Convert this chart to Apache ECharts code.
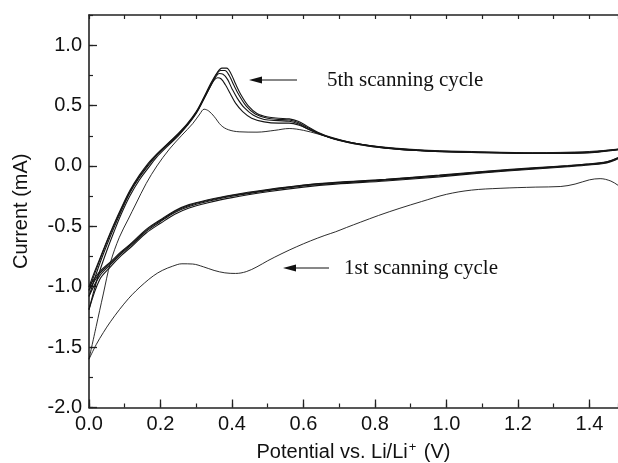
<!DOCTYPE html>
<html>
<head>
<meta charset="utf-8">
<script src="https://cdn.jsdelivr.net/npm/echarts@6/dist/echarts.min.js"></script>
<style>
    html, body {margin: 0; padding: 0; background: #fff;}
    #chart {width: 618px; height: 463px;}
</style>
</head>
<body>
<div id="chart"></div>
<script>
// cyclic voltammetry, potential (V) / current (mA) pairs
var cycle1Cathodic = [[1.50,-0.20],[1.48,-0.16],[1.46,-0.125],[1.43,-0.105],[1.40,-0.115],[1.36,-0.15],[1.32,-0.17],[1.25,-0.175],[1.15,-0.185],[1.07,-0.20],[1.00,-0.235],[0.93,-0.295],[0.87,-0.35],[0.81,-0.41],[0.76,-0.465],[0.72,-0.51],[0.69,-0.545],[0.66,-0.575],[0.62,-0.62],[0.58,-0.67],[0.54,-0.725],[0.50,-0.785],[0.47,-0.835],[0.44,-0.875],[0.41,-0.89],[0.38,-0.885],[0.35,-0.865],[0.32,-0.835],[0.29,-0.812],[0.26,-0.81],[0.234,-0.83],[0.205,-0.865],[0.18,-0.91],[0.155,-0.97],[0.131,-1.035],[0.11,-1.10],[0.085,-1.19],[0.06,-1.29],[0.04,-1.38],[0.02,-1.48],[0.0,-1.60]];
var cycle1Anodic = [[0.0,-1.60],[0.02,-1.33],[0.04,-1.06],[0.06,-0.80],[0.085,-0.59],[0.11,-0.44],[0.131,-0.315],[0.16,-0.145],[0.19,0.0],[0.225,0.14],[0.26,0.255],[0.29,0.35],[0.31,0.43],[0.322,0.47],[0.335,0.455],[0.35,0.41],[0.37,0.335],[0.39,0.3],[0.42,0.283],[0.47,0.28],[0.52,0.295],[0.56,0.31],[0.60,0.295],[0.64,0.265],[0.70,0.215],[0.76,0.18],[0.83,0.155],[0.95,0.13],[1.07,0.12],[1.24,0.11],[1.40,0.12],[1.48,0.14],[1.50,0.15]];

var cycle2Cathodic = [[1.50,0.08],[1.48,0.058],[1.46,0.036],[1.44,0.021],[1.40,0.008],[1.34,-0.006],[1.24,-0.027],[1.10,-0.058],[0.98,-0.09],[0.83,-0.124],[0.69,-0.15],[0.60,-0.175],[0.50,-0.214],[0.40,-0.262],[0.33,-0.307],[0.28,-0.348],[0.24,-0.40],[0.20,-0.475],[0.16,-0.555],[0.12,-0.665],[0.09,-0.743],[0.06,-0.835],[0.03,-0.94],[0.0,-1.19]];
var cycle2Anodic = [[0.0,-1.19],[0.015,-1.02],[0.03,-0.87],[0.05,-0.70],[0.07,-0.545],[0.09,-0.40],[0.115,-0.245],[0.14,-0.12],[0.165,-0.02],[0.19,0.075],[0.22,0.165],[0.25,0.25],[0.275,0.335],[0.30,0.435],[0.32,0.545],[0.338,0.65],[0.35,0.71],[0.36,0.73],[0.37,0.72],[0.382,0.67],[0.395,0.6],[0.41,0.52],[0.43,0.45],[0.455,0.395],[0.49,0.365],[0.53,0.355],[0.56,0.355],[0.59,0.335],[0.62,0.295],[0.65,0.26],[0.69,0.222],[0.74,0.19],[0.83,0.152],[0.95,0.126],[1.07,0.116],[1.24,0.107],[1.38,0.112],[1.46,0.132],[1.50,0.146]];

var cycle3Cathodic = [[1.50,0.085],[1.48,0.062],[1.46,0.04],[1.44,0.025],[1.40,0.012],[1.34,-0.002],[1.24,-0.022],[1.10,-0.053],[0.98,-0.083],[0.83,-0.117],[0.69,-0.143],[0.60,-0.166],[0.50,-0.204],[0.40,-0.251],[0.33,-0.295],[0.28,-0.335],[0.24,-0.385],[0.20,-0.46],[0.16,-0.542],[0.12,-0.652],[0.09,-0.728],[0.06,-0.817],[0.03,-0.91],[0.0,-1.08]];
var cycle3Anodic = [[0.0,-1.08],[0.015,-0.94],[0.03,-0.81],[0.05,-0.655],[0.07,-0.51],[0.09,-0.375],[0.115,-0.22],[0.14,-0.10],[0.165,0.0],[0.19,0.09],[0.22,0.175],[0.25,0.26],[0.275,0.34],[0.30,0.44],[0.32,0.55],[0.34,0.66],[0.354,0.735],[0.364,0.765],[0.375,0.76],[0.388,0.715],[0.40,0.64],[0.415,0.56],[0.435,0.48],[0.46,0.42],[0.49,0.385],[0.53,0.375],[0.56,0.37],[0.585,0.35],[0.61,0.31],[0.64,0.27],[0.68,0.228],[0.74,0.185],[0.83,0.147],[0.95,0.122],[1.07,0.112],[1.24,0.103],[1.38,0.107],[1.46,0.127],[1.50,0.142]];

var cycle4Cathodic = [[1.50,0.09],[1.48,0.066],[1.46,0.043],[1.44,0.028],[1.40,0.015],[1.34,0.001],[1.24,-0.019],[1.10,-0.049],[0.98,-0.079],[0.83,-0.113],[0.69,-0.138],[0.60,-0.161],[0.50,-0.199],[0.40,-0.245],[0.33,-0.288],[0.28,-0.327],[0.24,-0.377],[0.20,-0.452],[0.16,-0.533],[0.12,-0.642],[0.09,-0.718],[0.06,-0.805],[0.03,-0.89],[0.0,-1.03]];
var cycle4Anodic = [[0.0,-1.03],[0.015,-0.90],[0.03,-0.78],[0.05,-0.63],[0.07,-0.49],[0.09,-0.36],[0.115,-0.21],[0.14,-0.09],[0.165,0.01],[0.19,0.095],[0.22,0.18],[0.25,0.265],[0.275,0.345],[0.30,0.445],[0.32,0.555],[0.34,0.67],[0.356,0.755],[0.368,0.79],[0.38,0.79],[0.393,0.745],[0.405,0.67],[0.42,0.585],[0.44,0.495],[0.465,0.43],[0.50,0.395],[0.53,0.385],[0.56,0.38],[0.585,0.36],[0.61,0.32],[0.64,0.275],[0.68,0.23],[0.74,0.187],[0.83,0.148],[0.95,0.123],[1.07,0.113],[1.24,0.104],[1.38,0.108],[1.46,0.128],[1.50,0.143]];

var cycle5Cathodic = [[1.50,0.095],[1.48,0.07],[1.46,0.046],[1.44,0.03],[1.40,0.018],[1.34,0.004],[1.24,-0.016],[1.10,-0.046],[0.98,-0.076],[0.83,-0.11],[0.69,-0.135],[0.60,-0.158],[0.50,-0.195],[0.40,-0.24],[0.33,-0.282],[0.28,-0.32],[0.24,-0.37],[0.20,-0.445],[0.16,-0.525],[0.12,-0.635],[0.09,-0.71],[0.06,-0.795],[0.03,-0.875],[0.0,-1.00]];
var cycle5Anodic = [[0.0,-1.00],[0.015,-0.88],[0.03,-0.77],[0.05,-0.62],[0.07,-0.48],[0.09,-0.35],[0.115,-0.20],[0.14,-0.08],[0.165,0.02],[0.19,0.10],[0.22,0.185],[0.25,0.27],[0.275,0.35],[0.30,0.45],[0.32,0.56],[0.34,0.68],[0.358,0.77],[0.372,0.81],[0.385,0.81],[0.398,0.76],[0.41,0.68],[0.425,0.59],[0.445,0.50],[0.47,0.435],[0.50,0.405],[0.53,0.395],[0.56,0.39],[0.585,0.37],[0.61,0.33],[0.64,0.28],[0.68,0.235],[0.74,0.19],[0.83,0.15],[0.95,0.125],[1.07,0.115],[1.24,0.105],[1.38,0.11],[1.46,0.13],[1.50,0.145]];

var branches = [cycle1Cathodic, cycle1Anodic, cycle2Cathodic, cycle2Anodic, cycle3Cathodic, cycle3Anodic,
    cycle4Cathodic, cycle4Anodic, cycle5Cathodic, cycle5Anodic];

var xName = 'Potential vs. Li/Li{sup|+} (V)';
var yName = 'Current (mA)';
var note5th = '5th scanning cycle';
var note1st = '1st scanning cycle';

var axisColor = '#222';
var labelFont = 'Liberation Sans';

var chart = echarts.init(document.getElementById('chart'));

var series = branches.map(function (d, i) {
    return {
        type: 'line',
        data: d,
        showSymbol: false,
        smooth: 0.35,
        lineStyle: {color: '#151515', width: i < 2 ? 0.9 : 1.1},
        silent: true,
        animation: false
    };
});

chart.setOption({
    animation: false,
    grid: {left: 89, right: 0, top: 15, bottom: 55.5, containLabel: false, outerBoundsMode: 'none'},
    xAxis: [
        {
            type: 'value', position: 'bottom', min: 0, max: 1.48, interval: 0.2,
            axisLine: {onZero: false, lineStyle: {color: axisColor, width: 1.6}},
            axisTick: {inside: true, length: 8, lineStyle: {color: axisColor, width: 1.3}},
            axisLabel: {
                color: '#111', fontSize: 20, fontFamily: labelFont, margin: 7, showMaxLabel: false,
                formatter: function (v) { return v.toFixed(1); }
            },
            splitLine: {show: false},
            name: xName, nameLocation: 'middle', nameGap: 33,
            nameTextStyle: {
                color: '#111', fontSize: 20, fontFamily: labelFont,
                rich: {sup: {fontSize: 13, fontFamily: labelFont, color: '#111', padding: [0, 2, 10, 1]}}
            }
        },
        {
            type: 'value', position: 'bottom', min: 0, max: 1.48, interval: 0.1,
            axisLine: {show: false, onZero: false},
            axisTick: {inside: true, length: 4, lineStyle: {color: axisColor, width: 1.2}},
            axisLabel: {show: false},
            splitLine: {show: false}
        },
        {
            type: 'value', position: 'top', min: 0, max: 1.48, interval: 0.1,
            axisLine: {onZero: false, lineStyle: {color: axisColor, width: 1.6}},
            axisTick: {inside: true, length: 4, lineStyle: {color: axisColor, width: 1.2}},
            axisLabel: {show: false},
            splitLine: {show: false}
        }
    ],
    yAxis: [
        {
            type: 'value', position: 'left', min: -2, max: 1.25, interval: 0.5,
            axisLine: {onZero: false, lineStyle: {color: axisColor, width: 1.6}},
            axisTick: {inside: true, length: 8, lineStyle: {color: axisColor, width: 1.3}},
            axisLabel: {
                color: '#111', fontSize: 20, fontFamily: labelFont, margin: 7, showMaxLabel: false,
                formatter: function (v) { return v.toFixed(1); }
            },
            splitLine: {show: false},
            name: yName, nameLocation: 'middle', nameGap: 58, nameRotate: 90,
            nameTextStyle: {color: '#111', fontSize: 20, fontFamily: labelFont}
        },
        {
            type: 'value', position: 'left', offset: 0, min: -2, max: 1.25, interval: 0.25,
            axisLine: {show: false, onZero: false},
            axisTick: {inside: true, length: 4, lineStyle: {color: axisColor, width: 1.2}},
            axisLabel: {show: false},
            splitLine: {show: false}
        }
    ],
    series: series,
    graphic: [
        {type: 'line', shape: {x1: 297, y1: 80, x2: 258, y2: 80}, style: {stroke: '#111', lineWidth: 1}},
        {type: 'polygon', shape: {points: [[249, 80], [262, 76.5], [262, 83.5]]}, style: {fill: '#111'}},
        {
            type: 'text', x: 327, y: 80,
            style: {text: note5th, font: '21px "Liberation Serif"', fill: '#111', verticalAlign: 'middle'}
        },
        {type: 'line', shape: {x1: 329, y1: 268, x2: 292, y2: 268}, style: {stroke: '#111', lineWidth: 1}},
        {type: 'polygon', shape: {points: [[283, 268], [296, 264.5], [296, 271.5]]}, style: {fill: '#111'}},
        {
            type: 'text', x: 344, y: 268,
            style: {text: note1st, font: '21px "Liberation Serif"', fill: '#111', verticalAlign: 'middle'}
        }
    ]
});
</script>
</body>
</html>
